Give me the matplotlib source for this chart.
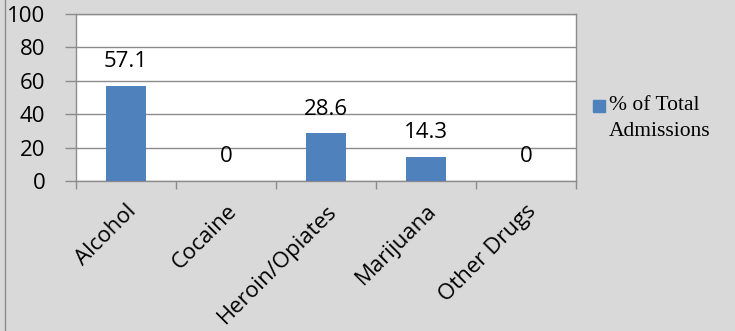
import matplotlib.pyplot as plt
import numpy as np

categories = ['Alcohol', 'Cocaine', 'Heroin/Opiates', 'Marijuana', 'Other Drugs']
values = [57.1, 0, 28.6, 14.3, 0]
label_text = ['57.1', '0', '28.6', '14.3', '0']
yticks = [0, 20, 40, 60, 80, 100]

W, H = 735, 331
fig = plt.figure(figsize=(W / 100, H / 100), dpi=100)
fig.patch.set_facecolor('#d9d9d9')

# plot area in pixel coords
x0, x1, ytop, ybot = 76, 576, 14, 181
ax = fig.add_axes([x0 / W, 1 - ybot / H, (x1 - x0) / W, (ybot - ytop) / H])
ax.set_facecolor('white')

x = np.arange(len(categories))
ax.bar(x, values, width=0.4, color='#4f81bd', zorder=3)
for xi, v, t in zip(x, values, label_text):
    ax.text(xi, v + 14.5, t, ha='center', va='center', fontsize=16, family='Open Sans')

ax.set_xlim(-0.5, len(categories) - 0.5)
ax.set_ylim(0, 100)
ax.set_yticks(yticks)
ax.set_yticklabels([str(t) for t in yticks], fontsize=16, family='Open Sans')
ax.yaxis.grid(True, color='#8c8c8c', linewidth=1, zorder=0)
ax.tick_params(axis='y', length=8, color='#8c8c8c', width=1, pad=14)

ax.set_xticks(np.arange(len(categories) + 1) - 0.5)
ax.set_xticklabels([])
ax.tick_params(axis='x', length=6, color='#8c8c8c', width=1)
ax.set_xticks(x, minor=True)
ax.set_xticklabels(categories, minor=True, rotation=45, ha='right', rotation_mode='anchor',
                   fontsize=16, family='Open Sans')
ax.tick_params(axis='x', which='minor', length=0, pad=14)

for s in ax.spines.values():
    s.set_color('#8c8c8c')
    s.set_linewidth(1)

# legend
fig.patches.append(plt.Rectangle((593 / W, 1 - 112 / H), 12 / W, 12 / H,
                                 transform=fig.transFigure, color='#4f81bd'))
fig.text(609 / W, 1 - 106 / H, '% of Total', fontsize=15.5, family='Liberation Serif', va='center')
fig.text(609 / W, 1 - 132 / H, 'Admissions', fontsize=15.5, family='Liberation Serif', va='center')

# left border of chart frame
fig.add_artist(plt.Line2D([5 / W, 5 / W], [0, 1], transform=fig.transFigure, color='#8c8c8c', linewidth=1))

fig.savefig('out.png', dpi=100, facecolor=fig.get_facecolor())
